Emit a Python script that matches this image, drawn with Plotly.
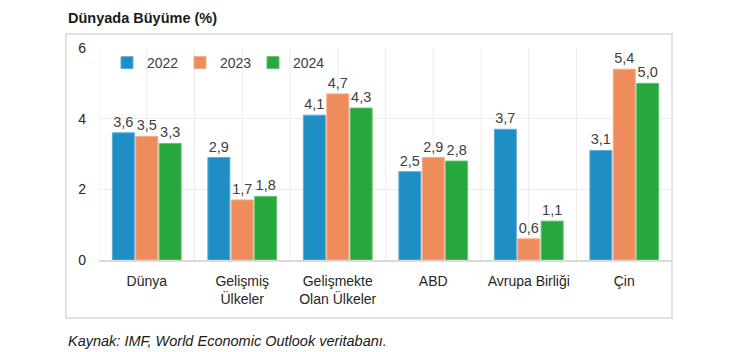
import plotly.graph_objects as go

categories = ["Dünya", "Gelişmiş<br>Ülkeler", "Gelişmekte<br>Olan Ülkeler", "ABD", "Avrupa Birliği", "Çin"]
years = ["2022", "2023", "2024"]
v2022 = [3.6, 2.9, 4.1, 2.5, 3.7, 3.1]
v2023 = [3.5, 1.7, 4.7, 2.9, 0.6, 5.4]
v2024 = [3.3, 1.8, 4.3, 2.8, 1.1, 5.0]
y_ticks = [0, 2, 4, 6]
title_text = "Dünyada Büyüme (%)"
source_text = "Kaynak: IMF, World Economic Outlook veritabanı."

colors = ["#1F8EC4", "#EE8C5C", "#28A73C"]
edge = ["#5FAED6", "#F3AE8A", "#63C072"]
FONT = "Liberation Sans, Arial, sans-serif"
TXT = "#404040"

W, H = 740, 352
L, R, T, B = 99, 672, 48, 260

fig = go.Figure()
for name, vals, c, e in zip(years, [v2022, v2023, v2024], colors, edge):
    fig.add_trace(go.Bar(
        x=categories, y=vals, name=name,
        marker=dict(color=c, line=dict(color=e, width=1)),
        text=[f"{v:.1f}".replace(".", ",") for v in vals],
        textposition="outside", cliponaxis=False,
        textfont=dict(size=14.5, color=TXT, family=FONT),
    ))

def px(x):
    return (x - L) / (R - L)

def py(y):
    return (B - y) / (B - T)

shapes = []
# outer frame
shapes.append(dict(type="rect", xref="paper", yref="paper",
                   x0=px(66), x1=px(672), y0=py(318), y1=py(34),
                   line=dict(color="#D9D9D9", width=1.5), layer="below"))
# vertical gridlines at half-category steps
n = len(categories)
for k in range(2 * n + 1):
    xv = -0.5 + 0.5 * k
    shapes.append(dict(type="line", xref="x", yref="y", x0=xv, x1=xv, y0=0, y1=6,
                       line=dict(color="#ECECEC", width=1), layer="below"))

fig.update_layout(
    width=W, height=H,
    margin=dict(l=L, r=W - R, t=T, b=H - B, pad=0),
    paper_bgcolor="white", plot_bgcolor="white",
    barmode="group", bargap=0.265, bargroupgap=0.06,
    separators=",.",
    font=dict(family=FONT, color=TXT, size=14),
    shapes=shapes,
    showlegend=True,
    legend=dict(orientation="h", x=px(107), xanchor="left", y=py(63), yanchor="middle",
                font=dict(size=14, color=TXT, family=FONT),
                entrywidth=28, entrywidthmode="pixels",
                bgcolor="rgba(0,0,0,0)", traceorder="normal"),
    xaxis=dict(showgrid=False, showline=True, linecolor="#D9D9D9", linewidth=1.5,
               ticks="", ticklabelstandoff=7,
               tickfont=dict(size=14, color="#262626", family=FONT),
               range=[-0.5, n - 0.5], fixedrange=True),
    yaxis=dict(range=[0, 6], tickvals=y_ticks, showgrid=True, gridcolor="#ECECEC",
               gridwidth=1, zeroline=False, showline=False, ticks="",
               ticklabelstandoff=12,
               tickfont=dict(size=14, color="#262626", family=FONT), fixedrange=True),
    annotations=[
        dict(text=f"<b>{title_text}</b>", xref="paper", yref="paper",
             x=px(66), y=py(18), xanchor="left", yanchor="middle", showarrow=False,
             font=dict(size=14.5, color="#1A1A1A", family=FONT)),
        dict(text=f"<i>{source_text}</i>", xref="paper", yref="paper",
             x=px(66), y=py(341), xanchor="left", yanchor="middle", showarrow=False,
             font=dict(size=14.5, color="#1A1A1A", family=FONT)),
    ],
)

fig.write_html("out.html")
